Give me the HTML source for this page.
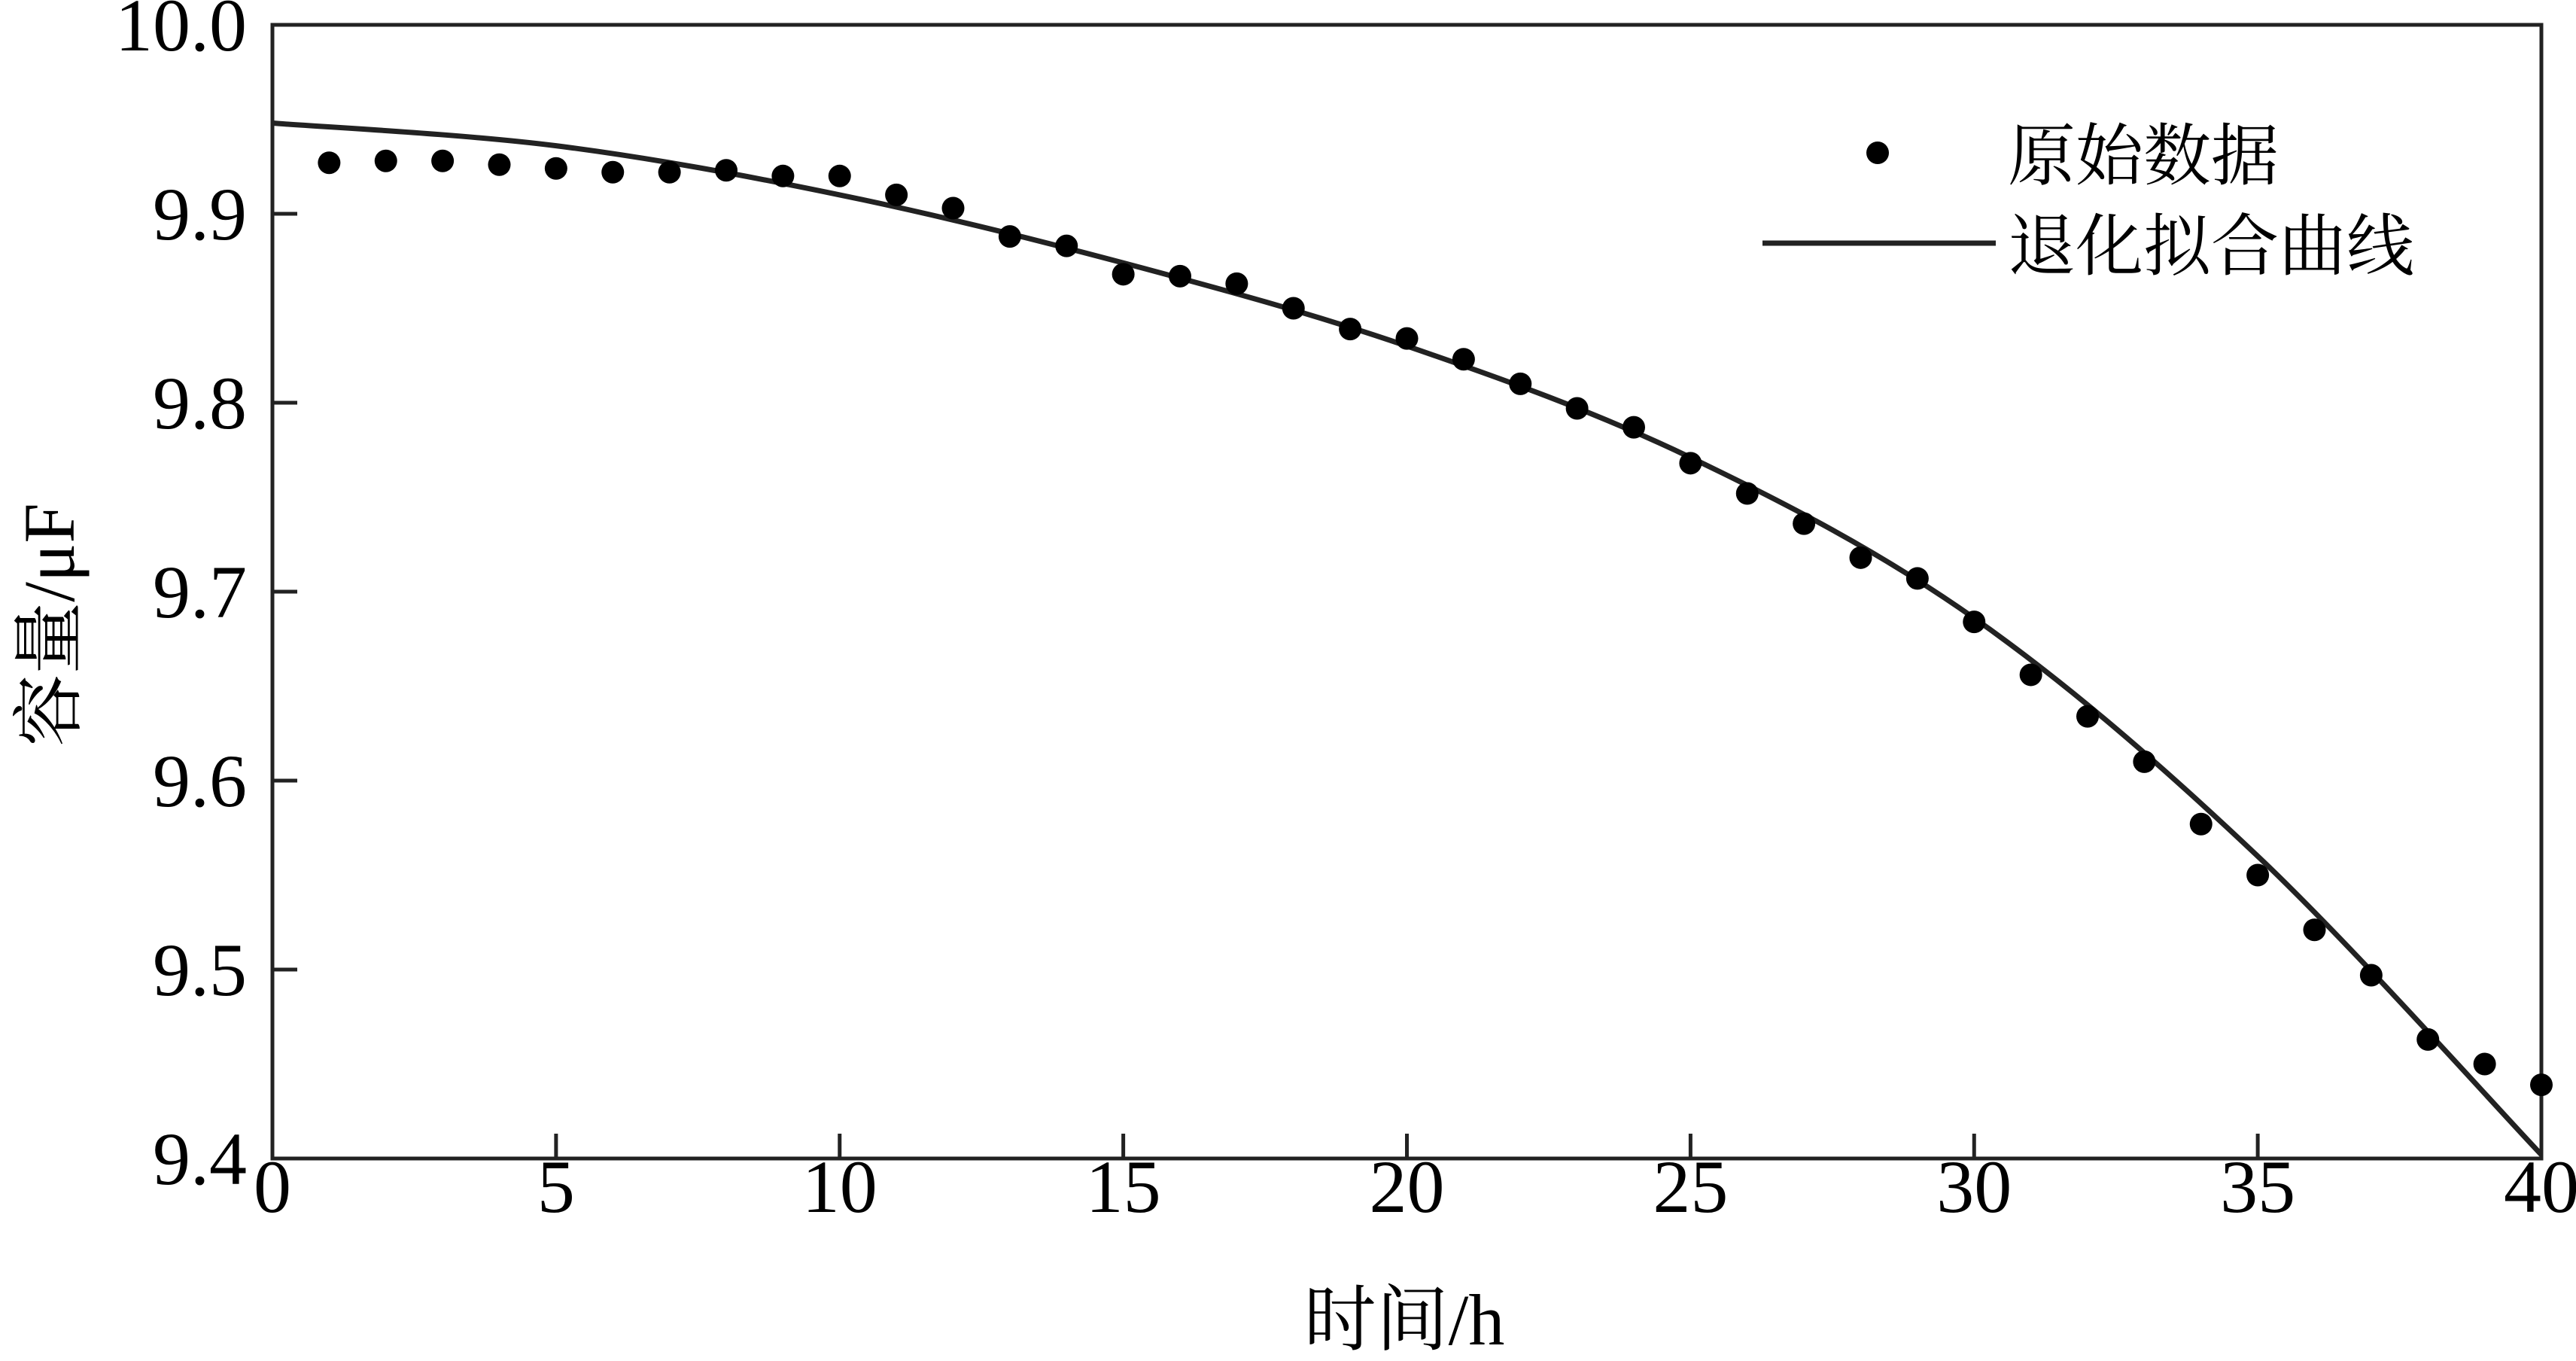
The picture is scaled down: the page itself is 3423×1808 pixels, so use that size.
<!DOCTYPE html>
<html><head><meta charset="utf-8"><style>
html,body{margin:0;padding:0;background:#fff;}
svg text{font-family:"Liberation Serif","Noto Serif CJK SC",serif;fill:#000;}
</style></head><body>
<svg width="3423" height="1803" viewBox="0 0 3423 1803" xmlns="http://www.w3.org/2000/svg">
<g id="plot"></g>
</svg>
<script>
const xTicks=[0,5,10,15,20,25,30,35,40];
const yTicks=[9.4,9.5,9.6,9.7,9.8,9.9,10.0];
const yTickLabels=["9.4","9.5","9.6","9.7","9.8","9.9","10.0"];
const hours=[1,2,3,4,5,6,7,8,9,10,11,12,13,14,15,16,17,18,19,20,21,22,23,24,25,26,27,28,29,30,31,32,33,34,35,36,37,38,39,40];
const rawData=[9.927,9.928,9.928,9.926,9.924,9.922,9.922,9.923,9.920,9.920,9.910,9.903,9.888,9.883,9.868,9.867,9.863,9.850,9.839,9.834,9.823,9.810,9.797,9.787,9.768,9.752,9.736,9.718,9.707,9.684,9.656,9.634,9.610,9.577,9.550,9.521,9.497,9.463,9.450,9.439];
const fitHours=[0,5,10,15,20,25,30,35,40];
const fitValues=[9.948,9.936,9.910,9.874,9.830,9.771,9.686,9.560,9.402];

const L=362,R=3377,T=33,B=1539;
const xs=v=>L+(v-0)/(40-0)*(R-L);
const ys=v=>B-(v-9.4)/(10.0-9.4)*(B-T);
const NS="http://www.w3.org/2000/svg";
const g=document.getElementById('plot');
function mk(tag,attrs,parent){const e=document.createElementNS(NS,tag);for(const k in attrs)e.setAttribute(k,attrs[k]);(parent||g).appendChild(e);return e;}

const frame=mk('rect',{x:L,y:T,width:R-L,height:B-T,fill:'none',stroke:'#222','stroke-width':5});



yTicks.forEach((v,i)=>{
  const t=mk('line',{x1:L,x2:L+33,y1:ys(v),y2:ys(v),stroke:'#222','stroke-width':5});
  
  
  const tx=mk('text',{x:328,y:ys(v)+34,'text-anchor':'end','font-size':100});
  tx.textContent=yTickLabels[i];
  
  
});
xTicks.forEach(v=>{
  const t=mk('line',{x1:xs(v),x2:xs(v),y1:B,y2:B-33,stroke:'#222','stroke-width':5});
  
  
  const tx=mk('text',{x:xs(v),y:1610,'text-anchor':'middle','font-size':100});
  tx.textContent=String(v);
  
  
});

const pts=fitHours.map((h,i)=>[xs(h),ys(fitValues[i])]);
let d='M'+pts[0][0]+','+pts[0][1];
for(let i=0;i<pts.length-1;i++){
  const p0=pts[Math.max(0,i-1)],p1=pts[i],p2=pts[i+1],p3=pts[Math.min(pts.length-1,i+2)];
  const c1=[p1[0]+(p2[0]-p0[0])/6,p1[1]+(p2[1]-p0[1])/6];
  const c2=[p2[0]-(p3[0]-p1[0])/6,p2[1]-(p3[1]-p1[1])/6];
  d+=' C'+c1[0]+','+c1[1]+' '+c2[0]+','+c2[1]+' '+p2[0]+','+p2[1];
}
const curve=mk('path',{d:d,fill:'none',stroke:'#222','stroke-width':7});



hours.forEach((h,i)=>{
  const c=mk('circle',{cx:xs(h),cy:ys(rawData[i]),r:15,fill:'#000'});
  
  
});

const ld=mk('circle',{cx:2495,cy:203,r:15,fill:'#000'});


const lt1=mk('text',{x:2668,y:238,'font-size':90});
lt1.textContent='原始数据';


const ll=mk('line',{x1:2342,x2:2652,y1:323,y2:323,stroke:'#222','stroke-width':7});


const lt2=mk('text',{x:2668,y:358,'font-size':90});
lt2.textContent='退化拟合曲线';



const xt=mk('text',{x:1866,y:1786,'text-anchor':'middle','font-size':96});
xt.textContent='时间/h';


const yt=mk('text',{x:0,y:0,'text-anchor':'middle','font-size':96,transform:'translate(98,830) rotate(-90)'});
yt.textContent='容量/μF';


</script>
</body></html>
